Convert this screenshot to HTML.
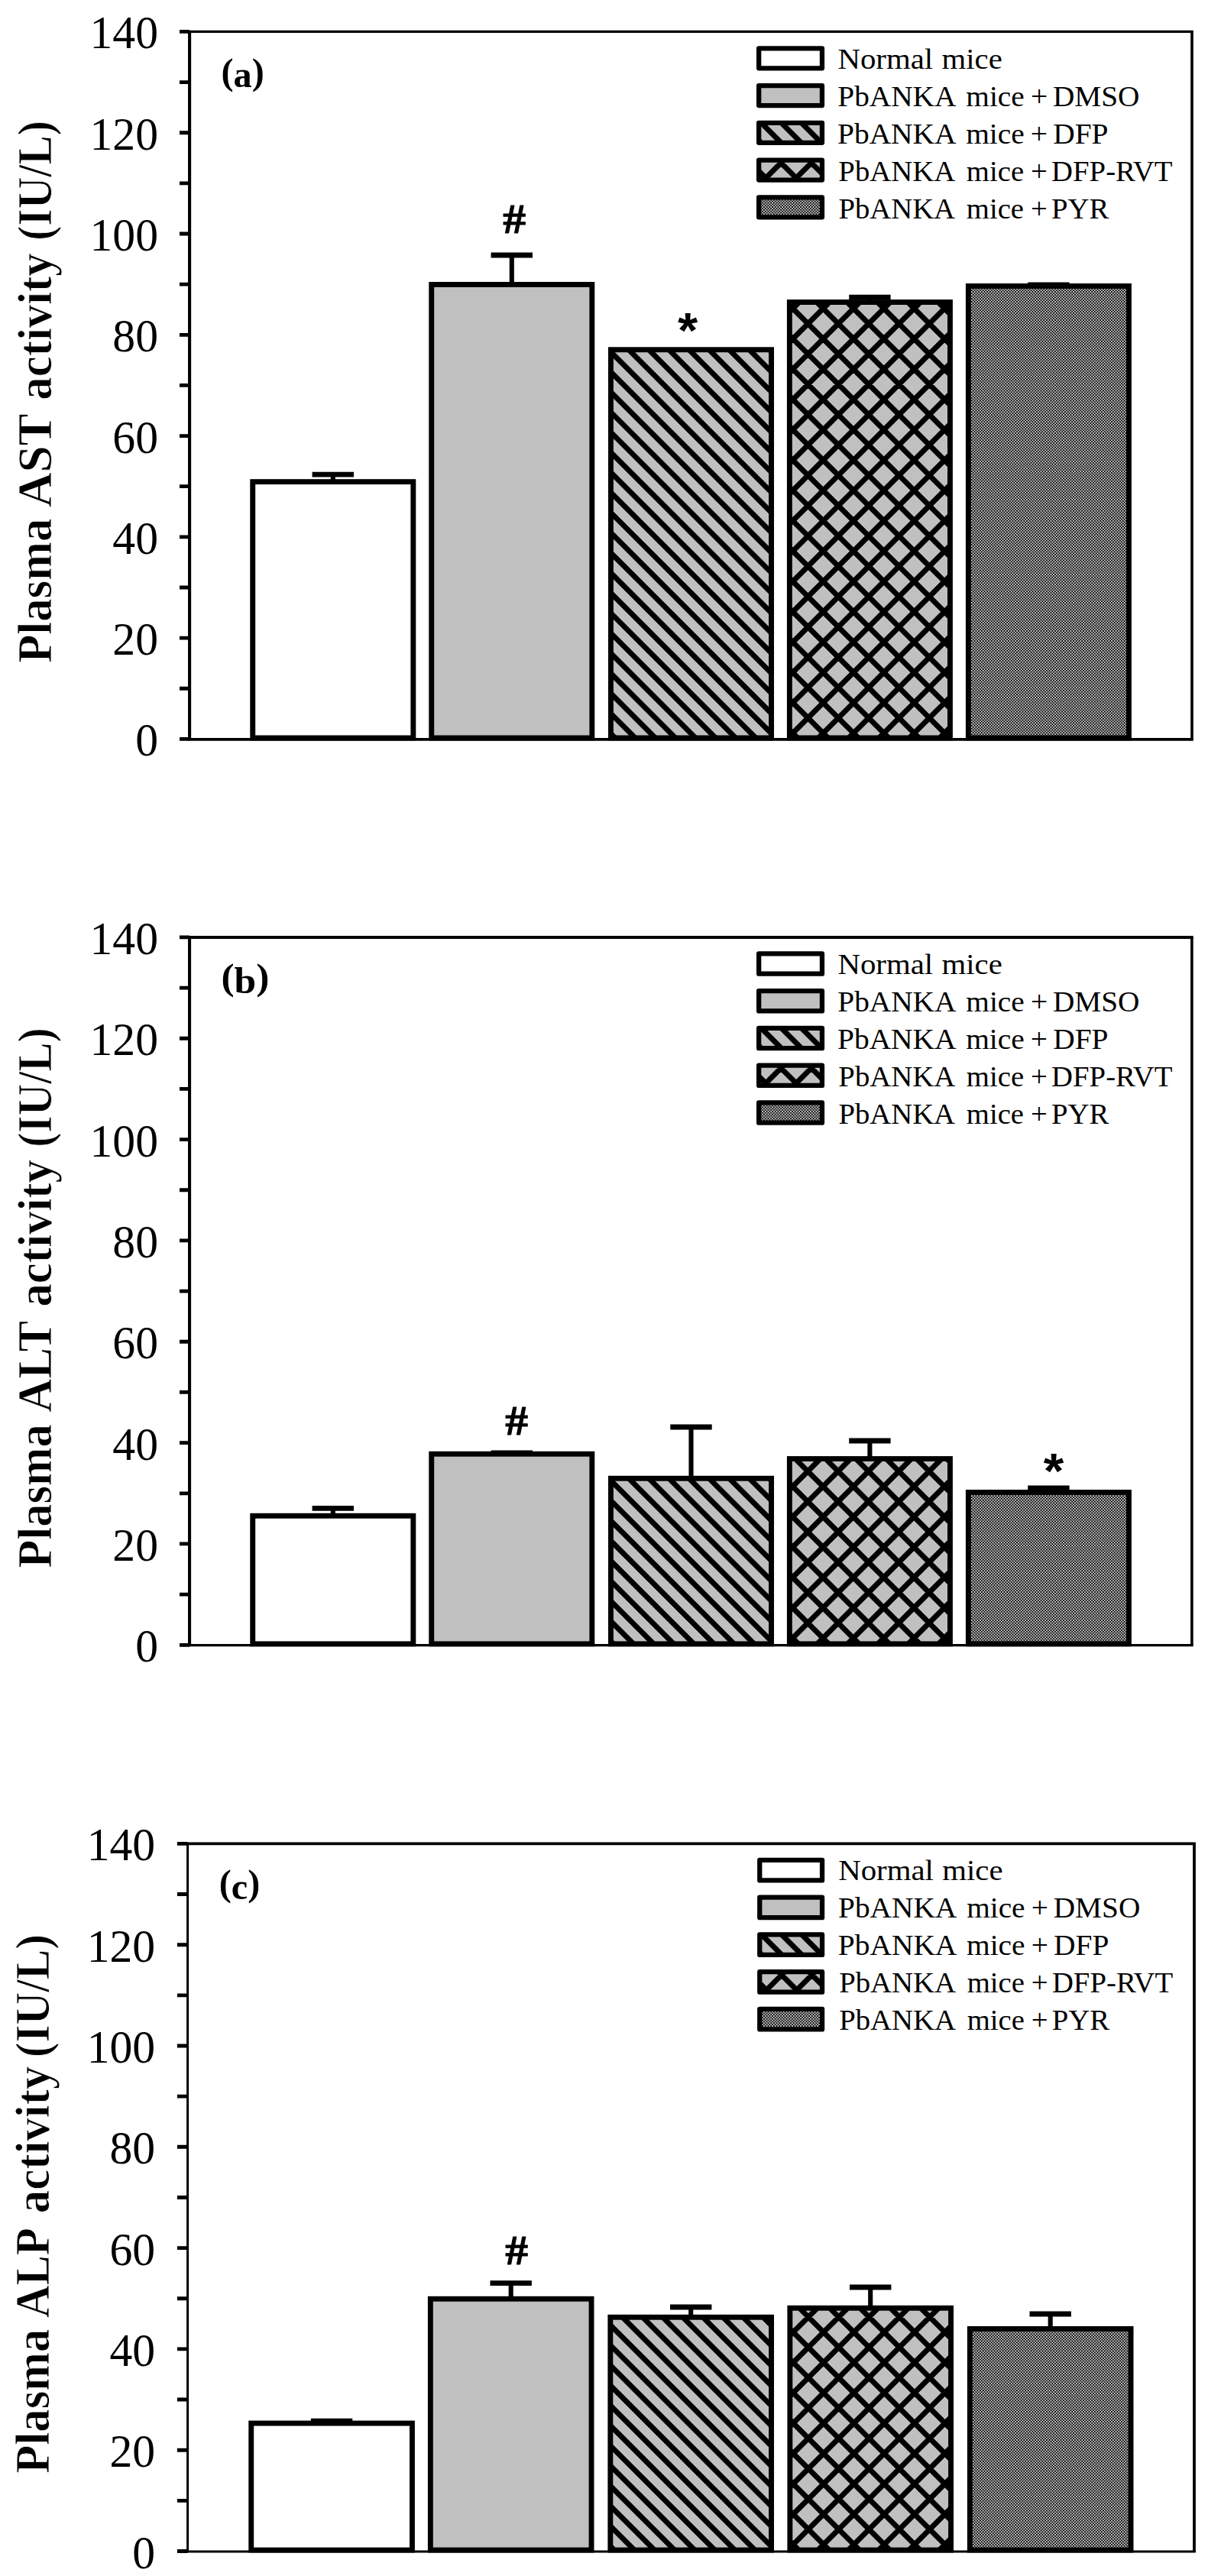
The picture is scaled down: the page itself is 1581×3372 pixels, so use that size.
<!DOCTYPE html>
<html lang="en"><head><meta charset="utf-8"><title>Plasma AST, ALT and ALP activity</title>
<style>html,body{margin:0;padding:0;background:#fff}svg{display:block}text{font-family:"Liberation Serif","DejaVu Serif",serif;fill:#000}</style>
</head><body>
<svg width="1581" height="3372" viewBox="0 0 1581 3372">
<defs>
<pattern id="dots" patternUnits="userSpaceOnUse" x="0" y="0" width="37" height="37"><rect width="37" height="37" fill="#d0d0d0"/><path d="M0 0h1.85v1.85h-1.85zM3.7 0h1.85v1.85h-1.85zM7.4 0h1.85v1.85h-1.85zM11.1 0h1.85v1.85h-1.85zM14.8 0h1.85v1.85h-1.85zM18.5 0h1.85v1.85h-1.85zM22.2 0h1.85v1.85h-1.85zM25.9 0h1.85v1.85h-1.85zM29.6 0h1.85v1.85h-1.85zM33.3 0h1.85v1.85h-1.85zM1.85 1.85h1.85v1.85h-1.85zM5.55 1.85h1.85v1.85h-1.85zM9.25 1.85h1.85v1.85h-1.85zM12.95 1.85h1.85v1.85h-1.85zM16.65 1.85h1.85v1.85h-1.85zM20.35 1.85h1.85v1.85h-1.85zM24.05 1.85h1.85v1.85h-1.85zM27.75 1.85h1.85v1.85h-1.85zM31.45 1.85h1.85v1.85h-1.85zM35.15 1.85h1.85v1.85h-1.85zM0 3.7h1.85v1.85h-1.85zM3.7 3.7h1.85v1.85h-1.85zM7.4 3.7h1.85v1.85h-1.85zM11.1 3.7h1.85v1.85h-1.85zM14.8 3.7h1.85v1.85h-1.85zM18.5 3.7h1.85v1.85h-1.85zM22.2 3.7h1.85v1.85h-1.85zM25.9 3.7h1.85v1.85h-1.85zM29.6 3.7h1.85v1.85h-1.85zM33.3 3.7h1.85v1.85h-1.85zM1.85 5.55h1.85v1.85h-1.85zM5.55 5.55h1.85v1.85h-1.85zM9.25 5.55h1.85v1.85h-1.85zM12.95 5.55h1.85v1.85h-1.85zM16.65 5.55h1.85v1.85h-1.85zM20.35 5.55h1.85v1.85h-1.85zM24.05 5.55h1.85v1.85h-1.85zM27.75 5.55h1.85v1.85h-1.85zM31.45 5.55h1.85v1.85h-1.85zM35.15 5.55h1.85v1.85h-1.85zM0 7.4h1.85v1.85h-1.85zM3.7 7.4h1.85v1.85h-1.85zM7.4 7.4h1.85v1.85h-1.85zM11.1 7.4h1.85v1.85h-1.85zM14.8 7.4h1.85v1.85h-1.85zM18.5 7.4h1.85v1.85h-1.85zM22.2 7.4h1.85v1.85h-1.85zM25.9 7.4h1.85v1.85h-1.85zM29.6 7.4h1.85v1.85h-1.85zM33.3 7.4h1.85v1.85h-1.85zM1.85 9.25h1.85v1.85h-1.85zM5.55 9.25h1.85v1.85h-1.85zM9.25 9.25h1.85v1.85h-1.85zM12.95 9.25h1.85v1.85h-1.85zM16.65 9.25h1.85v1.85h-1.85zM20.35 9.25h1.85v1.85h-1.85zM24.05 9.25h1.85v1.85h-1.85zM27.75 9.25h1.85v1.85h-1.85zM31.45 9.25h1.85v1.85h-1.85zM35.15 9.25h1.85v1.85h-1.85zM0 11.1h1.85v1.85h-1.85zM3.7 11.1h1.85v1.85h-1.85zM7.4 11.1h1.85v1.85h-1.85zM11.1 11.1h1.85v1.85h-1.85zM14.8 11.1h1.85v1.85h-1.85zM18.5 11.1h1.85v1.85h-1.85zM22.2 11.1h1.85v1.85h-1.85zM25.9 11.1h1.85v1.85h-1.85zM29.6 11.1h1.85v1.85h-1.85zM33.3 11.1h1.85v1.85h-1.85zM1.85 12.95h1.85v1.85h-1.85zM5.55 12.95h1.85v1.85h-1.85zM9.25 12.95h1.85v1.85h-1.85zM12.95 12.95h1.85v1.85h-1.85zM16.65 12.95h1.85v1.85h-1.85zM20.35 12.95h1.85v1.85h-1.85zM24.05 12.95h1.85v1.85h-1.85zM27.75 12.95h1.85v1.85h-1.85zM31.45 12.95h1.85v1.85h-1.85zM35.15 12.95h1.85v1.85h-1.85zM0 14.8h1.85v1.85h-1.85zM3.7 14.8h1.85v1.85h-1.85zM7.4 14.8h1.85v1.85h-1.85zM11.1 14.8h1.85v1.85h-1.85zM14.8 14.8h1.85v1.85h-1.85zM18.5 14.8h1.85v1.85h-1.85zM22.2 14.8h1.85v1.85h-1.85zM25.9 14.8h1.85v1.85h-1.85zM29.6 14.8h1.85v1.85h-1.85zM33.3 14.8h1.85v1.85h-1.85zM1.85 16.65h1.85v1.85h-1.85zM5.55 16.65h1.85v1.85h-1.85zM9.25 16.65h1.85v1.85h-1.85zM12.95 16.65h1.85v1.85h-1.85zM16.65 16.65h1.85v1.85h-1.85zM20.35 16.65h1.85v1.85h-1.85zM24.05 16.65h1.85v1.85h-1.85zM27.75 16.65h1.85v1.85h-1.85zM31.45 16.65h1.85v1.85h-1.85zM35.15 16.65h1.85v1.85h-1.85zM0 18.5h1.85v1.85h-1.85zM3.7 18.5h1.85v1.85h-1.85zM7.4 18.5h1.85v1.85h-1.85zM11.1 18.5h1.85v1.85h-1.85zM14.8 18.5h1.85v1.85h-1.85zM18.5 18.5h1.85v1.85h-1.85zM22.2 18.5h1.85v1.85h-1.85zM25.9 18.5h1.85v1.85h-1.85zM29.6 18.5h1.85v1.85h-1.85zM33.3 18.5h1.85v1.85h-1.85zM1.85 20.35h1.85v1.85h-1.85zM5.55 20.35h1.85v1.85h-1.85zM9.25 20.35h1.85v1.85h-1.85zM12.95 20.35h1.85v1.85h-1.85zM16.65 20.35h1.85v1.85h-1.85zM20.35 20.35h1.85v1.85h-1.85zM24.05 20.35h1.85v1.85h-1.85zM27.75 20.35h1.85v1.85h-1.85zM31.45 20.35h1.85v1.85h-1.85zM35.15 20.35h1.85v1.85h-1.85zM0 22.2h1.85v1.85h-1.85zM3.7 22.2h1.85v1.85h-1.85zM7.4 22.2h1.85v1.85h-1.85zM11.1 22.2h1.85v1.85h-1.85zM14.8 22.2h1.85v1.85h-1.85zM18.5 22.2h1.85v1.85h-1.85zM22.2 22.2h1.85v1.85h-1.85zM25.9 22.2h1.85v1.85h-1.85zM29.6 22.2h1.85v1.85h-1.85zM33.3 22.2h1.85v1.85h-1.85zM1.85 24.05h1.85v1.85h-1.85zM5.55 24.05h1.85v1.85h-1.85zM9.25 24.05h1.85v1.85h-1.85zM12.95 24.05h1.85v1.85h-1.85zM16.65 24.05h1.85v1.85h-1.85zM20.35 24.05h1.85v1.85h-1.85zM24.05 24.05h1.85v1.85h-1.85zM27.75 24.05h1.85v1.85h-1.85zM31.45 24.05h1.85v1.85h-1.85zM35.15 24.05h1.85v1.85h-1.85zM0 25.9h1.85v1.85h-1.85zM3.7 25.9h1.85v1.85h-1.85zM7.4 25.9h1.85v1.85h-1.85zM11.1 25.9h1.85v1.85h-1.85zM14.8 25.9h1.85v1.85h-1.85zM18.5 25.9h1.85v1.85h-1.85zM22.2 25.9h1.85v1.85h-1.85zM25.9 25.9h1.85v1.85h-1.85zM29.6 25.9h1.85v1.85h-1.85zM33.3 25.9h1.85v1.85h-1.85zM1.85 27.75h1.85v1.85h-1.85zM5.55 27.75h1.85v1.85h-1.85zM9.25 27.75h1.85v1.85h-1.85zM12.95 27.75h1.85v1.85h-1.85zM16.65 27.75h1.85v1.85h-1.85zM20.35 27.75h1.85v1.85h-1.85zM24.05 27.75h1.85v1.85h-1.85zM27.75 27.75h1.85v1.85h-1.85zM31.45 27.75h1.85v1.85h-1.85zM35.15 27.75h1.85v1.85h-1.85zM0 29.6h1.85v1.85h-1.85zM3.7 29.6h1.85v1.85h-1.85zM7.4 29.6h1.85v1.85h-1.85zM11.1 29.6h1.85v1.85h-1.85zM14.8 29.6h1.85v1.85h-1.85zM18.5 29.6h1.85v1.85h-1.85zM22.2 29.6h1.85v1.85h-1.85zM25.9 29.6h1.85v1.85h-1.85zM29.6 29.6h1.85v1.85h-1.85zM33.3 29.6h1.85v1.85h-1.85zM1.85 31.45h1.85v1.85h-1.85zM5.55 31.45h1.85v1.85h-1.85zM9.25 31.45h1.85v1.85h-1.85zM12.95 31.45h1.85v1.85h-1.85zM16.65 31.45h1.85v1.85h-1.85zM20.35 31.45h1.85v1.85h-1.85zM24.05 31.45h1.85v1.85h-1.85zM27.75 31.45h1.85v1.85h-1.85zM31.45 31.45h1.85v1.85h-1.85zM35.15 31.45h1.85v1.85h-1.85zM0 33.3h1.85v1.85h-1.85zM3.7 33.3h1.85v1.85h-1.85zM7.4 33.3h1.85v1.85h-1.85zM11.1 33.3h1.85v1.85h-1.85zM14.8 33.3h1.85v1.85h-1.85zM18.5 33.3h1.85v1.85h-1.85zM22.2 33.3h1.85v1.85h-1.85zM25.9 33.3h1.85v1.85h-1.85zM29.6 33.3h1.85v1.85h-1.85zM33.3 33.3h1.85v1.85h-1.85zM1.85 35.15h1.85v1.85h-1.85zM5.55 35.15h1.85v1.85h-1.85zM9.25 35.15h1.85v1.85h-1.85zM12.95 35.15h1.85v1.85h-1.85zM16.65 35.15h1.85v1.85h-1.85zM20.35 35.15h1.85v1.85h-1.85zM24.05 35.15h1.85v1.85h-1.85zM27.75 35.15h1.85v1.85h-1.85zM31.45 35.15h1.85v1.85h-1.85zM35.15 35.15h1.85v1.85h-1.85z" fill="#000"/></pattern>
</defs>
<rect width="1581" height="3372" fill="#fff"/>
<g id="chart-a">
<rect x="330.75" y="630.65" width="210.1" height="335.3" fill="#fff"/>
<rect x="330.75" y="630.65" width="210.1" height="335.3" fill="none" stroke="#000" stroke-width="6.9" stroke-linejoin="miter"/>
<path d="M408.6 621.1H463" fill="none" stroke="#000" stroke-width="6.8"/><path d="M435.8 621.1V630.4" fill="none" stroke="#000" stroke-width="6.1"/>
<rect x="564.75" y="372.45" width="210.1" height="593.5" fill="#c0c0c0"/>
<rect x="564.75" y="372.45" width="210.1" height="593.5" fill="none" stroke="#000" stroke-width="6.9" stroke-linejoin="miter"/>
<path d="M642.6 334H697" fill="none" stroke="#000" stroke-width="6.8"/><path d="M669.8 334V372.2" fill="none" stroke="#000" stroke-width="6.1"/>
<rect x="799.45" y="457.75" width="210.1" height="508.2" fill="#c0c0c0"/>
<clipPath id="c1"><rect x="799.45" y="457.75" width="210.1" height="508.2"/></clipPath>
<path clip-path="url(#c1)" d="M234.25 447.75L762.45 975.95M260.55 447.75L788.75 975.95M286.85 447.75L815.05 975.95M313.15 447.75L841.35 975.95M339.45 447.75L867.65 975.95M365.75 447.75L893.95 975.95M392.05 447.75L920.25 975.95M418.35 447.75L946.55 975.95M444.65 447.75L972.85 975.95M470.95 447.75L999.15 975.95M497.25 447.75L1025.45 975.95M523.55 447.75L1051.75 975.95M549.85 447.75L1078.05 975.95M576.15 447.75L1104.35 975.95M602.45 447.75L1130.65 975.95M628.75 447.75L1156.95 975.95M655.05 447.75L1183.25 975.95M681.35 447.75L1209.55 975.95M707.65 447.75L1235.85 975.95M733.95 447.75L1262.15 975.95M760.25 447.75L1288.45 975.95M786.55 447.75L1314.75 975.95M812.85 447.75L1341.05 975.95M839.15 447.75L1367.35 975.95M865.45 447.75L1393.65 975.95M891.75 447.75L1419.95 975.95M918.05 447.75L1446.25 975.95M944.35 447.75L1472.55 975.95M970.65 447.75L1498.85 975.95M996.95 447.75L1525.15 975.95M1023.25 447.75L1551.45 975.95M1049.55 447.75L1577.75 975.95" fill="none" stroke="#000" stroke-width="7"/>
<rect x="799.45" y="457.75" width="210.1" height="508.2" fill="none" stroke="#000" stroke-width="6.9" stroke-linejoin="miter"/>
<rect x="1033.35" y="395.55" width="210.1" height="570.4" fill="#c0c0c0"/>
<clipPath id="c2"><rect x="1033.35" y="395.55" width="210.1" height="570.4"/></clipPath>
<path clip-path="url(#c2)" d="M384.15 385.55L974.55 975.95M423.85 385.55L1014.25 975.95M463.55 385.55L1053.95 975.95M503.25 385.55L1093.65 975.95M542.95 385.55L1133.35 975.95M582.65 385.55L1173.05 975.95M622.35 385.55L1212.75 975.95M662.05 385.55L1252.45 975.95M701.75 385.55L1292.15 975.95M741.45 385.55L1331.85 975.95M781.15 385.55L1371.55 975.95M820.85 385.55L1411.25 975.95M860.55 385.55L1450.95 975.95M900.25 385.55L1490.65 975.95M939.95 385.55L1530.35 975.95M979.65 385.55L1570.05 975.95M1019.35 385.55L1609.75 975.95M1059.05 385.55L1649.45 975.95M1098.75 385.55L1689.15 975.95M1138.45 385.55L1728.85 975.95M1178.15 385.55L1768.55 975.95M1217.85 385.55L1808.25 975.95M1257.55 385.55L1847.95 975.95M1297.25 385.55L1887.65 975.95M976.55 385.55L386.15 975.95M1016.25 385.55L425.85 975.95M1055.95 385.55L465.55 975.95M1095.65 385.55L505.25 975.95M1135.35 385.55L544.95 975.95M1175.05 385.55L584.65 975.95M1214.75 385.55L624.35 975.95M1254.45 385.55L664.05 975.95M1294.15 385.55L703.75 975.95M1333.85 385.55L743.45 975.95M1373.55 385.55L783.15 975.95M1413.25 385.55L822.85 975.95M1452.95 385.55L862.55 975.95M1492.65 385.55L902.25 975.95M1532.35 385.55L941.95 975.95M1572.05 385.55L981.65 975.95M1611.75 385.55L1021.35 975.95M1651.45 385.55L1061.05 975.95M1691.15 385.55L1100.75 975.95M1730.85 385.55L1140.45 975.95M1770.55 385.55L1180.15 975.95M1810.25 385.55L1219.85 975.95M1849.95 385.55L1259.55 975.95M1889.65 385.55L1299.25 975.95" fill="none" stroke="#000" stroke-width="7"/>
<rect x="1033.35" y="395.55" width="210.1" height="570.4" fill="none" stroke="#000" stroke-width="6.9" stroke-linejoin="miter"/>
<path d="M1111.2 389.2H1165.6" fill="none" stroke="#000" stroke-width="6.8"/><path d="M1138.4 389.2V395.3" fill="none" stroke="#000" stroke-width="6.1"/>
<rect x="1267.35" y="374.45" width="210.1" height="591.5" fill="url(#dots)"/>
<rect x="1267.35" y="374.45" width="210.1" height="591.5" fill="none" stroke="#000" stroke-width="6.9" stroke-linejoin="miter"/>
<path d="M1345.2 372.8H1399.6" fill="none" stroke="#000" stroke-width="6.8"/><path d="M1372.4 372.8V374.2" fill="none" stroke="#000" stroke-width="6.1"/>
<path d="M246.05 41.45H1561.8" stroke="#000" stroke-width="3.2" fill="none"/>
<path d="M246.05 967.8H1561.8" stroke="#000" stroke-width="3.8" fill="none"/>
<path d="M248.1 41.45V967.8" stroke="#000" stroke-width="4.1" fill="none"/>
<path d="M1560 41.45V967.8" stroke="#000" stroke-width="3.6" fill="none"/>
<path d="M235 967.4H248.1M235 901.26H248.1M235 835.12H248.1M235 768.98H248.1M235 702.84H248.1M235 636.7H248.1M235 570.56H248.1M235 504.43H248.1M235 438.29H248.1M235 372.15H248.1M235 306.01H248.1M235 239.87H248.1M235 173.73H248.1M235 107.59H248.1M235 41.45H248.1" stroke="#000" stroke-width="4.8" fill="none"/>
<text transform="translate(177.14 989.4) scale(0.963 1)" font-size="62">0</text>
<text transform="translate(147.28 857.12) scale(0.963 1)" font-size="62">20</text>
<text transform="translate(147.28 724.84) scale(0.963 1)" font-size="62">40</text>
<text transform="translate(147.28 592.56) scale(0.963 1)" font-size="62">60</text>
<text transform="translate(147.28 460.29) scale(0.963 1)" font-size="62">80</text>
<text transform="translate(117.43 328.01) scale(0.963 1)" font-size="62">100</text>
<text transform="translate(117.43 195.73) scale(0.963 1)" font-size="62">120</text>
<text transform="translate(117.43 63.45) scale(0.963 1)" font-size="62">140</text>
<text transform="translate(289.52 114.2) scale(0.9864 1)" font-size="49" font-weight="bold"><tspan dy="-4.5">(</tspan><tspan dy="4.5">a</tspan><tspan dy="-4.5">)</tspan></text>
<text transform="translate(658.3 304.5) scale(1.0878 1)" font-size="54.96" font-weight="bold" stroke="#000" stroke-width="1" stroke-linejoin="round">#</text>
<text transform="translate(886.96 455.02) scale(1.0258 1)" font-size="65.68" font-weight="bold" style="font-family:'Liberation Sans','DejaVu Sans',sans-serif">*</text>
<text transform="translate(67.2 867.84) rotate(-90) scale(0.9655 1)" font-size="63" font-weight="bold" stroke="#fff" stroke-width="0.85">Plasma</text>
<text transform="translate(67.2 664.06) rotate(-90) scale(1.0016 1)" font-size="63" font-weight="bold" stroke="#fff" stroke-width="0.85">AST</text>
<text transform="translate(67.2 523.75) rotate(-90) scale(0.9653 1)" font-size="63" font-weight="bold" stroke="#fff" stroke-width="0.85">activity</text>
<text transform="translate(67.2 315.02) rotate(-90) scale(0.9159 1)" font-size="63" font-weight="bold" stroke="#fff" stroke-width="0.85">(IU/L)</text>
<rect x="993.15" y="63.35" width="82.8" height="26" fill="#fff"/>
<rect x="993.15" y="63.35" width="82.8" height="26" fill="none" stroke="#000" stroke-width="6.3" stroke-linejoin="round"/>
<rect x="993.15" y="112.1" width="82.8" height="26" fill="#c0c0c0"/>
<rect x="993.15" y="112.1" width="82.8" height="26" fill="none" stroke="#000" stroke-width="6.3" stroke-linejoin="round"/>
<rect x="993.15" y="160.85" width="82.8" height="26" fill="#c0c0c0"/>
<clipPath id="c3"><rect x="993.15" y="160.85" width="82.8" height="26"/></clipPath>
<path clip-path="url(#c3)" d="M907.45 150.85L953.45 196.85M933.75 150.85L979.75 196.85M960.05 150.85L1006.05 196.85M986.35 150.85L1032.35 196.85M1012.65 150.85L1058.65 196.85M1038.95 150.85L1084.95 196.85M1065.25 150.85L1111.25 196.85M1091.55 150.85L1137.55 196.85M1117.85 150.85L1163.85 196.85" fill="none" stroke="#000" stroke-width="7"/>
<rect x="993.15" y="160.85" width="82.8" height="26" fill="none" stroke="#000" stroke-width="6.3" stroke-linejoin="round"/>
<rect x="993.15" y="209.6" width="82.8" height="26" fill="#c0c0c0"/>
<clipPath id="c4"><rect x="993.15" y="209.6" width="82.8" height="26"/></clipPath>
<path clip-path="url(#c4)" d="M889.5 199.6L935.5 245.6M929.2 199.6L975.2 245.6M968.9 199.6L1014.9 245.6M1008.6 199.6L1054.6 245.6M1048.3 199.6L1094.3 245.6M1088 199.6L1134 245.6M1127.7 199.6L1173.7 245.6M956.3 199.6L910.3 245.6M996 199.6L950 245.6M1035.7 199.6L989.7 245.6M1075.4 199.6L1029.4 245.6M1115.1 199.6L1069.1 245.6M1154.8 199.6L1108.8 245.6" fill="none" stroke="#000" stroke-width="7"/>
<rect x="993.15" y="209.6" width="82.8" height="26" fill="none" stroke="#000" stroke-width="6.3" stroke-linejoin="round"/>
<rect x="993.15" y="258.35" width="82.8" height="26" fill="url(#dots)"/>
<rect x="993.15" y="258.35" width="82.8" height="26" fill="none" stroke="#000" stroke-width="6.3" stroke-linejoin="round"/>
<text transform="translate(0 89.9) scale(1.0552 1)" font-size="38.7"><tspan x="1039.07">Normal</tspan> <tspan x="1167.98">mice</tspan></text>
<text transform="translate(0 138.9) scale(1.0160 1)" font-size="38.7"><tspan x="1079.04">PbANKA</tspan> <tspan x="1244.45">mice</tspan> <tspan x="1327.71">+</tspan> <tspan x="1356.19">DMSO</tspan></text>
<text transform="translate(0 187.9) scale(1.0191 1)" font-size="38.7"><tspan x="1075.46">PbANKA</tspan> <tspan x="1240.48">mice</tspan> <tspan x="1323.56">+</tspan> <tspan x="1352.37">DFP</tspan></text>
<text transform="translate(0 236.9) scale(1.0015 1)" font-size="38.7"><tspan x="1095.73">PbANKA</tspan> <tspan x="1262.96">mice</tspan> <tspan x="1347.04">+</tspan> <tspan x="1374.04">DFP-RVT</tspan></text>
<text transform="translate(0 285.9) scale(1.0004 1)" font-size="38.7"><tspan x="1096.98">PbANKA</tspan> <tspan x="1264.35">mice</tspan> <tspan x="1348.49">+</tspan> <tspan x="1375.39">PYR</tspan></text>
</g>
<g id="chart-b">
<rect x="330.75" y="1984.25" width="210.1" height="167.6" fill="#fff"/>
<rect x="330.75" y="1984.25" width="210.1" height="167.6" fill="none" stroke="#000" stroke-width="6.9" stroke-linejoin="miter"/>
<path d="M408.6 1974.4H463" fill="none" stroke="#000" stroke-width="6.8"/><path d="M435.8 1974.4V1984" fill="none" stroke="#000" stroke-width="6.1"/>
<rect x="564.75" y="1903.25" width="210.1" height="248.6" fill="#c0c0c0"/>
<rect x="564.75" y="1903.25" width="210.1" height="248.6" fill="none" stroke="#000" stroke-width="6.9" stroke-linejoin="miter"/>
<path d="M642.6 1902H697" fill="none" stroke="#000" stroke-width="6.8"/><path d="M669.8 1902V1903" fill="none" stroke="#000" stroke-width="6.1"/>
<rect x="799.45" y="1935.25" width="210.1" height="216.6" fill="#c0c0c0"/>
<clipPath id="c5"><rect x="799.45" y="1935.25" width="210.1" height="216.6"/></clipPath>
<path clip-path="url(#c5)" d="M523.65 1925.25L760.25 2161.85M549.95 1925.25L786.55 2161.85M576.25 1925.25L812.85 2161.85M602.55 1925.25L839.15 2161.85M628.85 1925.25L865.45 2161.85M655.15 1925.25L891.75 2161.85M681.45 1925.25L918.05 2161.85M707.75 1925.25L944.35 2161.85M734.05 1925.25L970.65 2161.85M760.35 1925.25L996.95 2161.85M786.65 1925.25L1023.25 2161.85M812.95 1925.25L1049.55 2161.85M839.25 1925.25L1075.85 2161.85M865.55 1925.25L1102.15 2161.85M891.85 1925.25L1128.45 2161.85M918.15 1925.25L1154.75 2161.85M944.45 1925.25L1181.05 2161.85M970.75 1925.25L1207.35 2161.85M997.05 1925.25L1233.65 2161.85M1023.35 1925.25L1259.95 2161.85M1049.65 1925.25L1286.25 2161.85" fill="none" stroke="#000" stroke-width="7"/>
<rect x="799.45" y="1935.25" width="210.1" height="216.6" fill="none" stroke="#000" stroke-width="6.9" stroke-linejoin="miter"/>
<path d="M877.3 1868H931.7" fill="none" stroke="#000" stroke-width="6.8"/><path d="M904.5 1868V1935" fill="none" stroke="#000" stroke-width="6.1"/>
<rect x="1033.35" y="1909.55" width="210.1" height="242.3" fill="#c0c0c0"/>
<clipPath id="c6"><rect x="1033.35" y="1909.55" width="210.1" height="242.3"/></clipPath>
<path clip-path="url(#c6)" d="M713.25 1899.55L975.55 2161.85M752.95 1899.55L1015.25 2161.85M792.65 1899.55L1054.95 2161.85M832.35 1899.55L1094.65 2161.85M872.05 1899.55L1134.35 2161.85M911.75 1899.55L1174.05 2161.85M951.45 1899.55L1213.75 2161.85M991.15 1899.55L1253.45 2161.85M1030.85 1899.55L1293.15 2161.85M1070.55 1899.55L1332.85 2161.85M1110.25 1899.55L1372.55 2161.85M1149.95 1899.55L1412.25 2161.85M1189.65 1899.55L1451.95 2161.85M1229.35 1899.55L1491.65 2161.85M1269.05 1899.55L1531.35 2161.85M1308.75 1899.55L1571.05 2161.85M964.55 1899.55L702.25 2161.85M1004.25 1899.55L741.95 2161.85M1043.95 1899.55L781.65 2161.85M1083.65 1899.55L821.35 2161.85M1123.35 1899.55L861.05 2161.85M1163.05 1899.55L900.75 2161.85M1202.75 1899.55L940.45 2161.85M1242.45 1899.55L980.15 2161.85M1282.15 1899.55L1019.85 2161.85M1321.85 1899.55L1059.55 2161.85M1361.55 1899.55L1099.25 2161.85M1401.25 1899.55L1138.95 2161.85M1440.95 1899.55L1178.65 2161.85M1480.65 1899.55L1218.35 2161.85M1520.35 1899.55L1258.05 2161.85M1560.05 1899.55L1297.75 2161.85" fill="none" stroke="#000" stroke-width="7"/>
<rect x="1033.35" y="1909.55" width="210.1" height="242.3" fill="none" stroke="#000" stroke-width="6.9" stroke-linejoin="miter"/>
<path d="M1111.2 1886H1165.6" fill="none" stroke="#000" stroke-width="6.8"/><path d="M1138.4 1886V1909.3" fill="none" stroke="#000" stroke-width="6.1"/>
<rect x="1267.35" y="1953.45" width="210.1" height="198.4" fill="url(#dots)"/>
<rect x="1267.35" y="1953.45" width="210.1" height="198.4" fill="none" stroke="#000" stroke-width="6.9" stroke-linejoin="miter"/>
<path d="M1345.2 1948H1399.6" fill="none" stroke="#000" stroke-width="6.8"/><path d="M1372.4 1948V1953.2" fill="none" stroke="#000" stroke-width="6.1"/>
<path d="M246 1226.9H1561.7" stroke="#000" stroke-width="4" fill="none"/>
<path d="M246 2153.7H1561.7" stroke="#000" stroke-width="3.2" fill="none"/>
<path d="M248.05 1226.9V2153.7" stroke="#000" stroke-width="4.1" fill="none"/>
<path d="M1559.9 1226.9V2153.7" stroke="#000" stroke-width="3.6" fill="none"/>
<path d="M235 2153.3H248.05M235 2087.13H248.05M235 2020.96H248.05M235 1954.79H248.05M235 1888.61H248.05M235 1822.44H248.05M235 1756.27H248.05M235 1690.1H248.05M235 1623.93H248.05M235 1557.76H248.05M235 1491.59H248.05M235 1425.41H248.05M235 1359.24H248.05M235 1293.07H248.05M235 1226.9H248.05" stroke="#000" stroke-width="4.8" fill="none"/>
<text transform="translate(177.14 2175.3) scale(0.963 1)" font-size="62">0</text>
<text transform="translate(147.28 2042.96) scale(0.963 1)" font-size="62">20</text>
<text transform="translate(147.28 1910.61) scale(0.963 1)" font-size="62">40</text>
<text transform="translate(147.28 1778.27) scale(0.963 1)" font-size="62">60</text>
<text transform="translate(147.28 1645.93) scale(0.963 1)" font-size="62">80</text>
<text transform="translate(117.43 1513.59) scale(0.963 1)" font-size="62">100</text>
<text transform="translate(117.43 1381.24) scale(0.963 1)" font-size="62">120</text>
<text transform="translate(117.43 1248.9) scale(0.963 1)" font-size="62">140</text>
<text transform="translate(289.38 1299.6) scale(1.0501 1)" font-size="49" font-weight="bold"><tspan dy="-4.5">(</tspan><tspan dy="4.5">b</tspan><tspan dy="-4.5">)</tspan></text>
<text transform="translate(661.31 1878.4) scale(1.0839 1)" font-size="54.96" font-weight="bold" stroke="#000" stroke-width="1" stroke-linejoin="round">#</text>
<text transform="translate(1365.76 1947.76) scale(1.0508 1)" font-size="64.86" font-weight="bold" style="font-family:'Liberation Sans','DejaVu Sans',sans-serif">*</text>
<text transform="translate(67.4 2052.43) rotate(-90) scale(0.9604 1)" font-size="63" font-weight="bold" stroke="#fff" stroke-width="0.85">Plasma</text>
<text transform="translate(67.4 1848.74) rotate(-90) scale(0.9684 1)" font-size="63" font-weight="bold" stroke="#fff" stroke-width="0.85">ALT</text>
<text transform="translate(67.4 1710.55) rotate(-90) scale(0.9658 1)" font-size="63" font-weight="bold" stroke="#fff" stroke-width="0.85">activity</text>
<text transform="translate(67.4 1501.81) rotate(-90) scale(0.9129 1)" font-size="63" font-weight="bold" stroke="#fff" stroke-width="0.85">(IU/L)</text>
<rect x="993.15" y="1248.35" width="82.8" height="26.3" fill="#fff"/>
<rect x="993.15" y="1248.35" width="82.8" height="26.3" fill="none" stroke="#000" stroke-width="6.3" stroke-linejoin="round"/>
<rect x="993.15" y="1297.1" width="82.8" height="26.3" fill="#c0c0c0"/>
<rect x="993.15" y="1297.1" width="82.8" height="26.3" fill="none" stroke="#000" stroke-width="6.3" stroke-linejoin="round"/>
<rect x="993.15" y="1345.85" width="82.8" height="26.3" fill="#c0c0c0"/>
<clipPath id="c7"><rect x="993.15" y="1345.85" width="82.8" height="26.3"/></clipPath>
<path clip-path="url(#c7)" d="M907.45 1335.85L953.75 1382.15M933.75 1335.85L980.05 1382.15M960.05 1335.85L1006.35 1382.15M986.35 1335.85L1032.65 1382.15M1012.65 1335.85L1058.95 1382.15M1038.95 1335.85L1085.25 1382.15M1065.25 1335.85L1111.55 1382.15M1091.55 1335.85L1137.85 1382.15M1117.85 1335.85L1164.15 1382.15" fill="none" stroke="#000" stroke-width="7"/>
<rect x="993.15" y="1345.85" width="82.8" height="26.3" fill="none" stroke="#000" stroke-width="6.3" stroke-linejoin="round"/>
<rect x="993.15" y="1394.6" width="82.8" height="26.3" fill="#c0c0c0"/>
<clipPath id="c8"><rect x="993.15" y="1394.6" width="82.8" height="26.3"/></clipPath>
<path clip-path="url(#c8)" d="M889.5 1384.6L935.8 1430.9M929.2 1384.6L975.5 1430.9M968.9 1384.6L1015.2 1430.9M1008.6 1384.6L1054.9 1430.9M1048.3 1384.6L1094.6 1430.9M1088 1384.6L1134.3 1430.9M1127.7 1384.6L1174 1430.9M956.3 1384.6L910 1430.9M996 1384.6L949.7 1430.9M1035.7 1384.6L989.4 1430.9M1075.4 1384.6L1029.1 1430.9M1115.1 1384.6L1068.8 1430.9M1154.8 1384.6L1108.5 1430.9" fill="none" stroke="#000" stroke-width="7"/>
<rect x="993.15" y="1394.6" width="82.8" height="26.3" fill="none" stroke="#000" stroke-width="6.3" stroke-linejoin="round"/>
<rect x="993.15" y="1443.35" width="82.8" height="26.3" fill="url(#dots)"/>
<rect x="993.15" y="1443.35" width="82.8" height="26.3" fill="none" stroke="#000" stroke-width="6.3" stroke-linejoin="round"/>
<text transform="translate(0 1274.9) scale(1.0552 1)" font-size="38.7"><tspan x="1039.07">Normal</tspan> <tspan x="1167.98">mice</tspan></text>
<text transform="translate(0 1323.9) scale(1.0160 1)" font-size="38.7"><tspan x="1079.04">PbANKA</tspan> <tspan x="1244.45">mice</tspan> <tspan x="1327.71">+</tspan> <tspan x="1356.19">DMSO</tspan></text>
<text transform="translate(0 1372.9) scale(1.0191 1)" font-size="38.7"><tspan x="1075.46">PbANKA</tspan> <tspan x="1240.48">mice</tspan> <tspan x="1323.56">+</tspan> <tspan x="1352.37">DFP</tspan></text>
<text transform="translate(0 1421.9) scale(1.0015 1)" font-size="38.7"><tspan x="1095.73">PbANKA</tspan> <tspan x="1262.96">mice</tspan> <tspan x="1347.04">+</tspan> <tspan x="1374.04">DFP-RVT</tspan></text>
<text transform="translate(0 1470.9) scale(1.0004 1)" font-size="38.7"><tspan x="1096.98">PbANKA</tspan> <tspan x="1264.35">mice</tspan> <tspan x="1348.49">+</tspan> <tspan x="1375.39">PYR</tspan></text>
</g>
<g id="chart-c">
<rect x="328.75" y="3172.05" width="210.7" height="166" fill="#fff"/>
<rect x="328.75" y="3172.05" width="210.7" height="166" fill="none" stroke="#000" stroke-width="6.9" stroke-linejoin="miter"/>
<path d="M406.9 3169.2H461.3" fill="none" stroke="#000" stroke-width="6.8"/><path d="M434.1 3169.2V3171.8" fill="none" stroke="#000" stroke-width="6.1"/>
<rect x="563.35" y="3009.25" width="210.7" height="328.8" fill="#c0c0c0"/>
<rect x="563.35" y="3009.25" width="210.7" height="328.8" fill="none" stroke="#000" stroke-width="6.9" stroke-linejoin="miter"/>
<path d="M641.5 2988.6H695.9" fill="none" stroke="#000" stroke-width="6.8"/><path d="M668.7 2988.6V3009" fill="none" stroke="#000" stroke-width="6.1"/>
<rect x="798.85" y="3033.25" width="210.7" height="304.8" fill="#c0c0c0"/>
<clipPath id="c9"><rect x="798.85" y="3033.25" width="210.7" height="304.8"/></clipPath>
<path clip-path="url(#c9)" d="M436.55 3023.25L761.35 3348.05M462.85 3023.25L787.65 3348.05M489.15 3023.25L813.95 3348.05M515.45 3023.25L840.25 3348.05M541.75 3023.25L866.55 3348.05M568.05 3023.25L892.85 3348.05M594.35 3023.25L919.15 3348.05M620.65 3023.25L945.45 3348.05M646.95 3023.25L971.75 3348.05M673.25 3023.25L998.05 3348.05M699.55 3023.25L1024.35 3348.05M725.85 3023.25L1050.65 3348.05M752.15 3023.25L1076.95 3348.05M778.45 3023.25L1103.25 3348.05M804.75 3023.25L1129.55 3348.05M831.05 3023.25L1155.85 3348.05M857.35 3023.25L1182.15 3348.05M883.65 3023.25L1208.45 3348.05M909.95 3023.25L1234.75 3348.05M936.25 3023.25L1261.05 3348.05M962.55 3023.25L1287.35 3348.05M988.85 3023.25L1313.65 3348.05M1015.15 3023.25L1339.95 3348.05M1041.45 3023.25L1366.25 3348.05" fill="none" stroke="#000" stroke-width="7"/>
<rect x="798.85" y="3033.25" width="210.7" height="304.8" fill="none" stroke="#000" stroke-width="6.9" stroke-linejoin="miter"/>
<path d="M877 3020H931.4" fill="none" stroke="#000" stroke-width="6.8"/><path d="M904.2 3020V3033" fill="none" stroke="#000" stroke-width="6.1"/>
<rect x="1033.85" y="3021.25" width="210.7" height="316.8" fill="#c0c0c0"/>
<clipPath id="c10"><rect x="1033.85" y="3021.25" width="210.7" height="316.8"/></clipPath>
<path clip-path="url(#c10)" d="M639.25 3011.25L976.05 3348.05M678.95 3011.25L1015.75 3348.05M718.65 3011.25L1055.45 3348.05M758.35 3011.25L1095.15 3348.05M798.05 3011.25L1134.85 3348.05M837.75 3011.25L1174.55 3348.05M877.45 3011.25L1214.25 3348.05M917.15 3011.25L1253.95 3348.05M956.85 3011.25L1293.65 3348.05M996.55 3011.25L1333.35 3348.05M1036.25 3011.25L1373.05 3348.05M1075.95 3011.25L1412.75 3348.05M1115.65 3011.25L1452.45 3348.05M1155.35 3011.25L1492.15 3348.05M1195.05 3011.25L1531.85 3348.05M1234.75 3011.25L1571.55 3348.05M1274.45 3011.25L1611.25 3348.05M1000.35 3011.25L663.55 3348.05M1040.05 3011.25L703.25 3348.05M1079.75 3011.25L742.95 3348.05M1119.45 3011.25L782.65 3348.05M1159.15 3011.25L822.35 3348.05M1198.85 3011.25L862.05 3348.05M1238.55 3011.25L901.75 3348.05M1278.25 3011.25L941.45 3348.05M1317.95 3011.25L981.15 3348.05M1357.65 3011.25L1020.85 3348.05M1397.35 3011.25L1060.55 3348.05M1437.05 3011.25L1100.25 3348.05M1476.75 3011.25L1139.95 3348.05M1516.45 3011.25L1179.65 3348.05M1556.15 3011.25L1219.35 3348.05M1595.85 3011.25L1259.05 3348.05M1635.55 3011.25L1298.75 3348.05" fill="none" stroke="#000" stroke-width="7"/>
<rect x="1033.85" y="3021.25" width="210.7" height="316.8" fill="none" stroke="#000" stroke-width="6.9" stroke-linejoin="miter"/>
<path d="M1112 2994H1166.4" fill="none" stroke="#000" stroke-width="6.8"/><path d="M1139.2 2994V3021" fill="none" stroke="#000" stroke-width="6.1"/>
<rect x="1269.35" y="3048.45" width="210.7" height="289.6" fill="url(#dots)"/>
<rect x="1269.35" y="3048.45" width="210.7" height="289.6" fill="none" stroke="#000" stroke-width="6.9" stroke-linejoin="miter"/>
<path d="M1347.5 3029H1401.9" fill="none" stroke="#000" stroke-width="6.8"/><path d="M1374.7 3029V3048.2" fill="none" stroke="#000" stroke-width="6.1"/>
<path d="M244.1 2413.4H1564.9" stroke="#000" stroke-width="3.8" fill="none"/>
<path d="M244.1 3339.9H1564.9" stroke="#000" stroke-width="3" fill="none"/>
<path d="M245.6 2413.4V3339.9" stroke="#000" stroke-width="3" fill="none"/>
<path d="M1563 2413.4V3339.9" stroke="#000" stroke-width="3.8" fill="none"/>
<path d="M231.9 3339.5H245.6M231.9 3273.35H245.6M231.9 3207.2H245.6M231.9 3141.05H245.6M231.9 3074.9H245.6M231.9 3008.75H245.6M231.9 2942.6H245.6M231.9 2876.45H245.6M231.9 2810.3H245.6M231.9 2744.15H245.6M231.9 2678H245.6M231.9 2611.85H245.6M231.9 2545.7H245.6M231.9 2479.55H245.6M231.9 2413.4H245.6" stroke="#000" stroke-width="4.9" fill="none"/>
<text transform="translate(173.34 3361.5) scale(0.963 1)" font-size="62">0</text>
<text transform="translate(143.48 3229.2) scale(0.963 1)" font-size="62">20</text>
<text transform="translate(143.48 3096.9) scale(0.963 1)" font-size="62">40</text>
<text transform="translate(143.48 2964.6) scale(0.963 1)" font-size="62">60</text>
<text transform="translate(143.48 2832.3) scale(0.963 1)" font-size="62">80</text>
<text transform="translate(113.63 2700) scale(0.963 1)" font-size="62">100</text>
<text transform="translate(113.63 2567.7) scale(0.963 1)" font-size="62">120</text>
<text transform="translate(113.63 2435.4) scale(0.963 1)" font-size="62">140</text>
<text transform="translate(286.73 2485.9) scale(0.9844 1)" font-size="49" font-weight="bold"><tspan dy="-4.5">(</tspan><tspan dy="4.5">c</tspan><tspan dy="-4.5">)</tspan></text>
<text transform="translate(661.31 2963.6) scale(1.0900 1)" font-size="54.66" font-weight="bold" stroke="#000" stroke-width="1" stroke-linejoin="round">#</text>
<text transform="translate(64.1 3237.74) rotate(-90) scale(0.9650 1)" font-size="63" font-weight="bold" stroke="#fff" stroke-width="0.85">Plasma</text>
<text transform="translate(64.1 3034.01) rotate(-90) scale(0.9358 1)" font-size="63" font-weight="bold" stroke="#fff" stroke-width="0.85">ALP</text>
<text transform="translate(64.1 2897.25) rotate(-90) scale(0.9658 1)" font-size="63" font-weight="bold" stroke="#fff" stroke-width="0.85">activity</text>
<text transform="translate(64.1 2693.29) rotate(-90) scale(0.9406 1)" font-size="63" font-weight="bold" stroke="#fff" stroke-width="0.85">(IU/L)</text>
<rect x="994.25" y="2434.95" width="81.8" height="26.5" fill="#fff"/>
<rect x="994.25" y="2434.95" width="81.8" height="26.5" fill="none" stroke="#000" stroke-width="6.3" stroke-linejoin="round"/>
<rect x="994.25" y="2483.7" width="81.8" height="26.5" fill="#c0c0c0"/>
<rect x="994.25" y="2483.7" width="81.8" height="26.5" fill="none" stroke="#000" stroke-width="6.3" stroke-linejoin="round"/>
<rect x="994.25" y="2532.45" width="81.8" height="26.5" fill="#c0c0c0"/>
<clipPath id="c11"><rect x="994.25" y="2532.45" width="81.8" height="26.5"/></clipPath>
<path clip-path="url(#c11)" d="M907.85 2522.45L954.35 2568.95M934.15 2522.45L980.65 2568.95M960.45 2522.45L1006.95 2568.95M986.75 2522.45L1033.25 2568.95M1013.05 2522.45L1059.55 2568.95M1039.35 2522.45L1085.85 2568.95M1065.65 2522.45L1112.15 2568.95M1091.95 2522.45L1138.45 2568.95M1118.25 2522.45L1164.75 2568.95" fill="none" stroke="#000" stroke-width="7"/>
<rect x="994.25" y="2532.45" width="81.8" height="26.5" fill="none" stroke="#000" stroke-width="6.3" stroke-linejoin="round"/>
<rect x="994.25" y="2581.2" width="81.8" height="26.5" fill="#c0c0c0"/>
<clipPath id="c12"><rect x="994.25" y="2581.2" width="81.8" height="26.5"/></clipPath>
<path clip-path="url(#c12)" d="M889.9 2571.2L936.4 2617.7M929.6 2571.2L976.1 2617.7M969.3 2571.2L1015.8 2617.7M1009 2571.2L1055.5 2617.7M1048.7 2571.2L1095.2 2617.7M1088.4 2571.2L1134.9 2617.7M1128.1 2571.2L1174.6 2617.7M957.5 2571.2L911 2617.7M997.2 2571.2L950.7 2617.7M1036.9 2571.2L990.4 2617.7M1076.6 2571.2L1030.1 2617.7M1116.3 2571.2L1069.8 2617.7M1156 2571.2L1109.5 2617.7" fill="none" stroke="#000" stroke-width="7"/>
<rect x="994.25" y="2581.2" width="81.8" height="26.5" fill="none" stroke="#000" stroke-width="6.3" stroke-linejoin="round"/>
<rect x="994.25" y="2629.95" width="81.8" height="26.5" fill="url(#dots)"/>
<rect x="994.25" y="2629.95" width="81.8" height="26.5" fill="none" stroke="#000" stroke-width="6.3" stroke-linejoin="round"/>
<text transform="translate(0 2460.7) scale(1.0552 1)" font-size="38.7"><tspan x="1039.83">Normal</tspan> <tspan x="1168.74">mice</tspan></text>
<text transform="translate(0 2509.7) scale(1.0160 1)" font-size="38.7"><tspan x="1079.82">PbANKA</tspan> <tspan x="1245.24">mice</tspan> <tspan x="1328.49">+</tspan> <tspan x="1356.98">DMSO</tspan></text>
<text transform="translate(0 2558.7) scale(1.0191 1)" font-size="38.7"><tspan x="1076.24">PbANKA</tspan> <tspan x="1241.27">mice</tspan> <tspan x="1324.35">+</tspan> <tspan x="1353.15">DFP</tspan></text>
<text transform="translate(0 2607.7) scale(1.0015 1)" font-size="38.7"><tspan x="1096.53">PbANKA</tspan> <tspan x="1263.76">mice</tspan> <tspan x="1347.83">+</tspan> <tspan x="1374.84">DFP-RVT</tspan></text>
<text transform="translate(0 2656.7) scale(1.0004 1)" font-size="38.7"><tspan x="1097.78">PbANKA</tspan> <tspan x="1265.15">mice</tspan> <tspan x="1349.29">+</tspan> <tspan x="1376.19">PYR</tspan></text>
</g>
</svg>
</body></html>
